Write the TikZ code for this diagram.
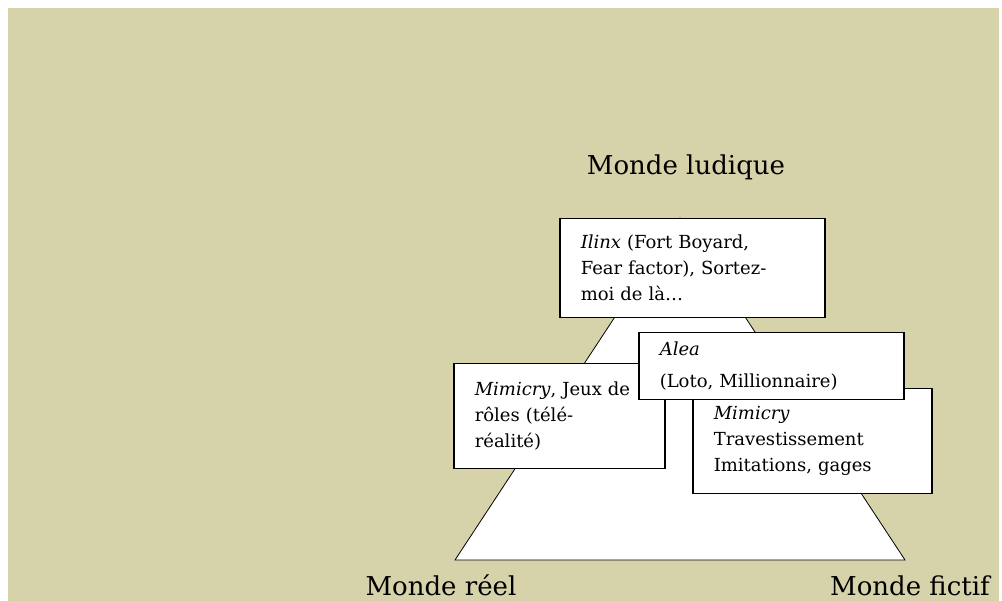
\documentclass[tikz,border=0pt]{standalone}
\usepackage{fontspec}
\setmainfont{DejaVu Serif}
\usetikzlibrary{calc}
\definecolor{khaki}{RGB}{214,211,170}

\begin{document}
\begin{tikzpicture}[x=1pt, y=-1pt, box/.style={draw, fill=white, line width=1.5pt, anchor=north west, align=left, inner xsep=21pt, inner ysep=0pt, font=\fontsize{18}{26}\selectfont}, monde/.style={anchor=base, font=\fontsize{26}{30}\selectfont}]
                        \fill[white] (0,0) rectangle (1002,601);
                        \fill[khaki] (8,8) rectangle (999,601);
                        \coordinate (top) at (680,218); \coordinate (reel) at (455,560); \coordinate (fictif) at (905,560);
                        \filldraw[fill=white, line width=0.8pt] (top) -- (reel) -- (fictif) -- cycle;
                        \node[monde] (ludiquelabel) at (686,175) {Monde ludique};
                        \node[monde] (reellabel) at (441,595) {Monde réel};
                        \node[monde] (fictiflabel) at (910,595) {Monde fictif};
                        \node[box, text width=223pt, minimum height=99pt] (ilinx) at (559,218) {\textit{Ilinx} (Fort Boyard,\\ Fear factor), Sortez-\\ moi de là…};
                        \node[box, text width=169pt, minimum height=105pt] (mimicryreel) at (453,363) {\textit{Mimicry}, Jeux de\\ rôles (télé-\\ réalité)};
                        \node[box, text width=197pt, minimum height=105pt] (mimicryfictif) at (692,388) {\textit{Mimicry}\\ Travestissement\\ Imitations, gages};
                        \node[box, text width=223pt, minimum height=67pt, font=\fontsize{18}{32}\selectfont] (alea) at (638,332) {\textit{Alea}\\ (Loto, Millionnaire)};
                    \end{tikzpicture}
\end{document}
